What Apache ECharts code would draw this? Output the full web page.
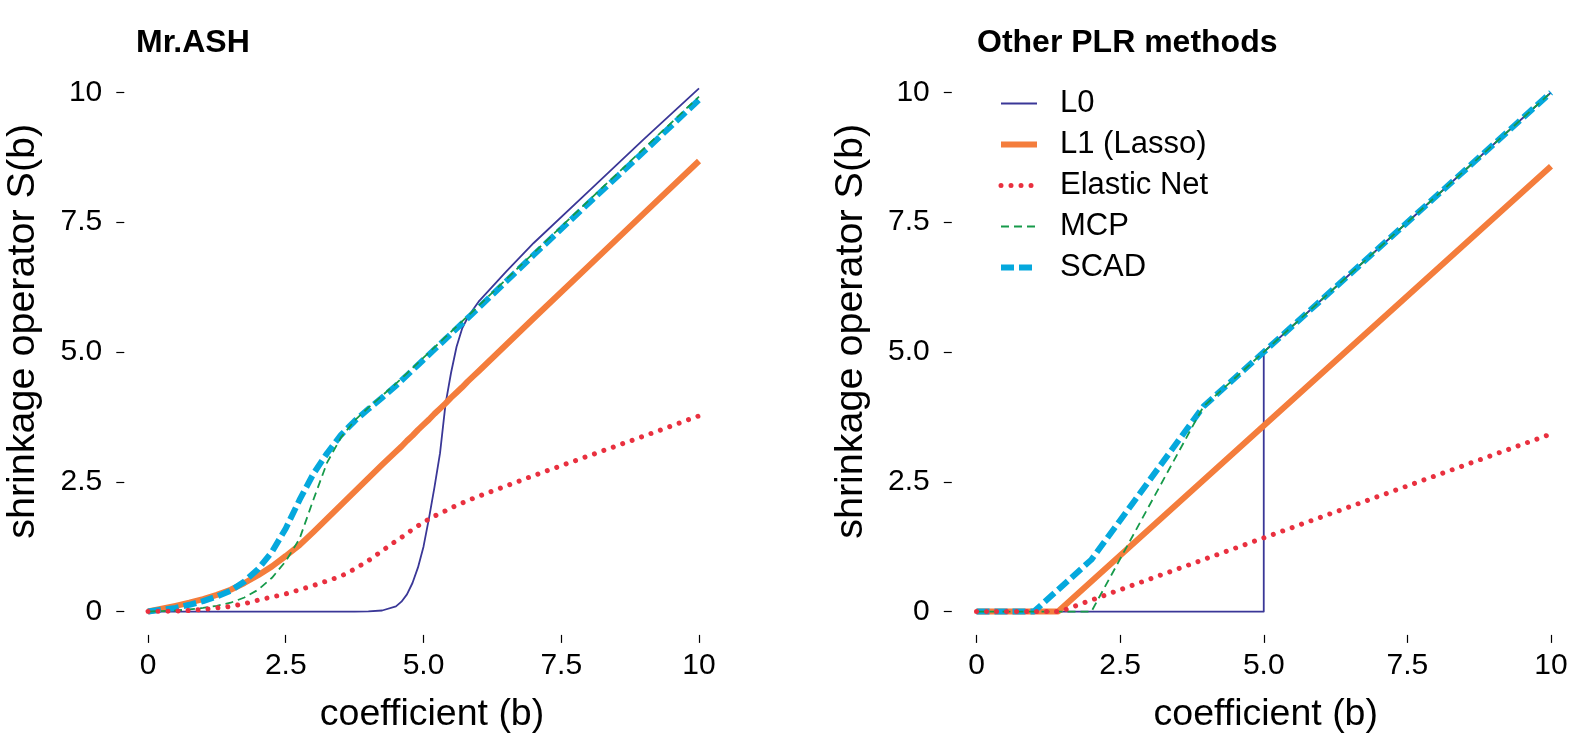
<!DOCTYPE html>
<html>
<head>
<meta charset="utf-8">
<title>shrinkage operators</title>
<script src="https://cdn.jsdelivr.net/npm/echarts@6/dist/echarts.min.js"></script>
<style>
  html, body { margin: 0; padding: 0; background: #fff; }
  #chart { width: 1577px; height: 735px; }
</style>
</head>
<body>
<div id="chart"></div>
<script>
// axis ticks (same on both panels)
const tickValues = [0, 2.5, 5, 7.5, 10]
const tickLabels = ['0', '2.5', '5.0', '7.5', '10']

// left panel: Mr.ASH
const ashB = [0, 0.5, 0.75, 1, 1.25, 1.5, 1.75, 2, 2.25, 2.5, 2.75, 3, 3.25, 3.5, 3.75, 4, 4.25, 4.5, 4.6, 4.7, 4.8, 4.9, 5, 5.1, 5.2, 5.3, 5.4, 5.5, 5.6, 5.7, 5.8, 5.9, 6, 6.5, 7, 8, 9, 10]
const ashL0 = [0, 0, 0, 0, 0, 0, 0, 0, 0, 0, 0, 0, 0, 0, 0, 0.005, 0.02, 0.1, 0.19, 0.33, 0.55, 0.85, 1.25, 1.8, 2.4, 3.05, 4.0, 4.6, 5.1, 5.45, 5.66, 5.82, 5.97, 6.55, 7.1, 8.1, 9.1, 10.08]
const ashL1 = [0, 0.11, 0.17, 0.24, 0.32, 0.42, 0.55, 0.7, 0.87, 1.07, 1.28, 1.53, 1.79, 2.05, 2.31, 2.57, 2.83, 3.08, 3.18, 3.29, 3.39, 3.5, 3.6, 3.7, 3.81, 3.91, 4.01, 4.12, 4.22, 4.32, 4.43, 4.53, 4.63, 5.14, 5.65, 6.66, 7.67, 8.68]
const ashEN = [0, 0.01, 0.02, 0.04, 0.07, 0.1, 0.15, 0.22, 0.28, 0.34, 0.42, 0.5, 0.59, 0.68, 0.82, 0.98, 1.17, 1.36, 1.43, 1.5, 1.58, 1.65, 1.72, 1.78, 1.84, 1.89, 1.94, 2.0, 2.04, 2.09, 2.13, 2.18, 2.22, 2.42, 2.62, 3.0, 3.38, 3.77]
const ashMCP = [0, 0.02, 0.04, 0.07, 0.11, 0.17, 0.27, 0.42, 0.65, 0.97, 1.4, 2.15, 2.87, 3.35, 3.68, 3.93, 4.16, 4.39, 4.49, 4.59, 4.69, 4.79, 4.89, 4.99, 5.09, 5.19, 5.29, 5.39, 5.49, 5.59, 5.69, 5.79, 5.89, 6.4, 6.91, 7.92, 8.92, 9.92]
const ashSCAD = [0, 0.07, 0.13, 0.2, 0.29, 0.4, 0.58, 0.82, 1.15, 1.6, 2.15, 2.65, 3.05, 3.4, 3.67, 3.9, 4.12, 4.35, 4.45, 4.55, 4.65, 4.75, 4.85, 4.95, 5.05, 5.15, 5.25, 5.35, 5.45, 5.55, 5.65, 5.75, 5.85, 6.36, 6.87, 7.87, 8.86, 9.86]

// right panel: other PLR methods, break points [b, S(b)]
const plrL0 = [[0, 0], [5, 0], [5, 5], [10, 10]]
const plrL1 = [[0, 0], [1.42, 0], [10, 8.58]]
const plrEN = [[0, 0], [1.45, 0], [10, 3.42]]
const plrMCP = [[0, 0], [2, 0], [3.95, 3.95], [10, 10]]
const plrSCAD = [[0, 0], [1, 0], [2, 1], [3.95, 3.95], [10, 10]]

const names = ['L0', 'L1 (Lasso)', 'Elastic Net', 'MCP', 'SCAD']

// line looks
const styles = {
  'L0': { color: '#3a3797', width: 1.8, type: 'solid' },
  'L1 (Lasso)': { color: '#f47d3c', width: 6, type: 'solid' },
  'Elastic Net': { color: '#e9303f', width: 5, type: [0.01, 10], cap: 'round' },
  'MCP': { color: '#169a4a', width: 1.8, type: [8, 5] },
  'SCAD': { color: '#05a8dd', width: 6, type: [13, 5] }
}

const FONT = 'Liberation Sans, Arial, Helvetica, sans-serif'

function pairs(xs, ys) {
  return xs.map((x, i) => [x, ys[i]])
}

function makeSeries(name, data, idx) {
  const st = styles[name]
  return {
    name: name,
    type: 'line',
    xAxisIndex: idx,
    yAxisIndex: idx,
    data: data,
    symbol: 'none',
    smooth: false,
    animation: false,
    color: st.color,
    lineStyle: {
      color: st.color,
      width: st.width,
      type: st.type,
      cap: st.cap || 'butt',
      join: 'round'
    }
  }
}

function xAxisOpt(idx, pad) {
  return {
    type: 'value',
    gridIndex: idx,
    min: -0.43,
    max: 10.43,
    name: 'coefficient (b)',
    nameLocation: 'middle',
    nameGap: 61,
    nameTextStyle: { fontSize: 37.5, color: '#000', fontFamily: FONT, padding: [0, 0, 0, pad] },
    axisLine: { show: false, onZero: false },
    splitLine: { show: false },
    axisTick: { show: true, customValues: tickValues, length: 8, lineStyle: { color: '#000', width: 1.2 } },
    axisLabel: {
      customValues: tickValues,
      fontSize: 30,
      color: '#000',
      fontFamily: FONT,
      margin: 16,
      formatter: v => tickLabels[tickValues.indexOf(v)]
    }
  }
}

function yAxisOpt(idx) {
  return {
    type: 'value',
    gridIndex: idx,
    min: -0.45,
    max: 10.4,
    name: 'shrinkage operator S(b)',
    nameLocation: 'middle',
    nameRotate: 90,
    nameGap: 81,
    nameTextStyle: { fontSize: 39.5, color: '#000', fontFamily: FONT, padding: [0, 0, 0, 44] },
    axisLine: { show: false, onZero: false },
    splitLine: { show: false },
    axisTick: { show: true, customValues: tickValues, length: 8, lineStyle: { color: '#000', width: 1.2 } },
    axisLabel: {
      customValues: tickValues,
      fontSize: 30,
      color: '#000',
      fontFamily: FONT,
      margin: 22,
      formatter: v => tickLabels[tickValues.indexOf(v)]
    }
  }
}

const chart = echarts.init(document.getElementById('chart'))

const option = {
  backgroundColor: '#fff',
  animation: false,
  title: [
    { text: 'Mr.ASH', left: 136, top: 27, padding: 0, textStyle: { fontSize: 32, fontWeight: 'bold', color: '#000', fontFamily: FONT } },
    { text: 'Other PLR methods', left: 977, top: 27, padding: 0, textStyle: { fontSize: 32, fontWeight: 'bold', color: '#000', fontFamily: FONT } }
  ],
  legend: {
    data: names,
    orient: 'vertical',
    left: 998,
    top: 88,
    padding: 0,
    itemWidth: 36,
    itemHeight: 14,
    itemGap: 10,
    selectedMode: false,
    itemStyle: { opacity: 0 },
    lineStyle: { width: 'inherit' },
    textStyle: { fontSize: 31, color: '#000', fontFamily: FONT, lineHeight: 30, padding: [0, 0, 0, 18] }
  },
  grid: [
    { left: 124.3, right: 854.3, top: 71.7, bottom: 100.1, containLabel: false, outerBoundsMode: 'none' },
    { left: 951.8, right: 1.3, top: 71.7, bottom: 100.1, containLabel: false, outerBoundsMode: 'none' }
  ],
  xAxis: [xAxisOpt(0, 17), xAxisOpt(1, 4)],
  yAxis: [yAxisOpt(0), yAxisOpt(1)],
  series: [
    // drawing order: L0 under the others, elastic net on top
    makeSeries('L0', pairs(ashB, ashL0), 0),
    makeSeries('L1 (Lasso)', pairs(ashB, ashL1), 0),
    makeSeries('SCAD', pairs(ashB, ashSCAD), 0),
    makeSeries('MCP', pairs(ashB, ashMCP), 0),
    makeSeries('Elastic Net', pairs(ashB, ashEN), 0),
    makeSeries('L0', plrL0, 1),
    makeSeries('L1 (Lasso)', plrL1, 1),
    makeSeries('SCAD', plrSCAD, 1),
    makeSeries('MCP', plrMCP, 1),
    makeSeries('Elastic Net', plrEN, 1)
  ]
}

chart.setOption(option)
</script>
</body>
</html>
